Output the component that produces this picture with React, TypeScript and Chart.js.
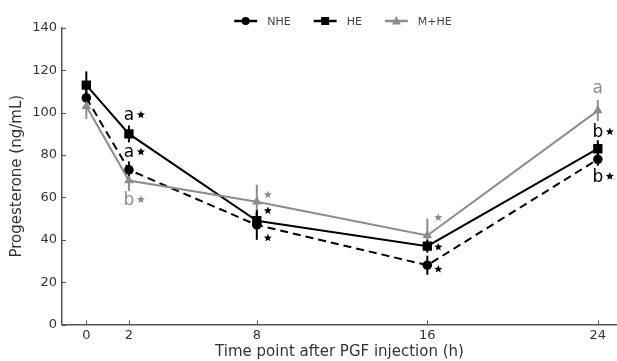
import React, { useEffect, useRef } from "react";
import { Chart, registerables } from "chart.js";
Chart.register(...registerables);

const timePoints = [0, 2, 8, 16, 24];
const nheValues = [107, 73, 47, 28, 78];
const nheErrors = [4, 4, 7, 4.5, 3];
const heValues = [113, 90, 49, 37, 83];
const heErrors = [6.5, 4, 4, 3, 4];
const mheValues = [103, 68, 58, 42, 101];
const mheErrors = [6, 5, 8, 8, 5];
const xTicks = [0, 2, 8, 16, 24];
const yTicks = [0, 20, 40, 60, 80, 100, 120, 140];
const seriesNames = ["NHE", "HE", "M+HE"];

// significance annotations
const annotSeries = [1, 0, 2, 2, 1, 0, 2, 1, 0, 2, 1, 0];
const annotPoint = [1, 1, 1, 2, 2, 2, 3, 3, 3, 4, 4, 4];
const annotLetter = ["a", "a", "b", "", "", "", "", "", "", "a", "b", "b"];
const annotStar = [true, true, true, true, true, true, true, true, true, false, true, true];

// label placement (style)
const annotDy = [-18, -17, 20, -7, -10, 13, -18, 1, 4, -22, -16, 18];

const BLACK = "#000000";
const GRAY = "#8c8c8c";
const FONT = "DejaVu Sans";

function star(ctx: CanvasRenderingContext2D, cx: number, cy: number, r: number) {
  const ri = r * 0.45;
  ctx.beginPath();
  for (let k = 0; k < 10; k++) {
    const rr = k % 2 === 0 ? r : ri;
    const a = -Math.PI / 2 + (k * Math.PI) / 5;
    const x = cx + rr * Math.cos(a);
    const y = cy + rr * Math.sin(a);
    if (k === 0) ctx.moveTo(x, y);
    else ctx.lineTo(x, y);
  }
  ctx.closePath();
  ctx.fill();
}

export default function App() {
  const ref = useRef<HTMLCanvasElement | null>(null);
  useEffect(() => {
    if (!ref.current) return;
    const colors = [BLACK, BLACK, GRAY];
    const errs = [nheErrors, heErrors, mheErrors];
    const vals = [nheValues, heValues, mheValues];
    const styles = ["circle", "rect", "triangle"];

    const overlay = {
      id: "overlay",
      beforeDatasetsDraw(chart: any) {
        const ctx = chart.ctx;
        const xs = chart.scales.x;
        const ys = chart.scales.y;
        ctx.save();
        ctx.lineWidth = 2;
        for (let s = 2; s >= 0; s--) {
          ctx.strokeStyle = colors[s];
          timePoints.forEach((t, i) => {
            const px = xs.getPixelForValue(t);
            ctx.beginPath();
            ctx.moveTo(px, ys.getPixelForValue(vals[s][i] - errs[s][i]));
            ctx.lineTo(px, ys.getPixelForValue(vals[s][i] + errs[s][i]));
            ctx.stroke();
          });
        }
        ctx.restore();
      },
      afterDraw(chart: any) {
        const ctx = chart.ctx;
        const xs = chart.scales.x;
        const ys = chart.scales.y;
        const area = chart.chartArea;
        ctx.save();
        // inward ticks
        ctx.strokeStyle = "#555";
        ctx.lineWidth = 1;
        xTicks.forEach((t) => {
          const px = Math.round(xs.getPixelForValue(t)) + 0.5;
          ctx.beginPath();
          ctx.moveTo(px, area.bottom);
          ctx.lineTo(px, area.bottom - 4);
          ctx.stroke();
        });
        yTicks.forEach((t) => {
          const py = Math.round(ys.getPixelForValue(t)) + 0.5;
          ctx.beginPath();
          ctx.moveTo(area.left, py);
          ctx.lineTo(area.left + 4, py);
          ctx.stroke();
        });
        // annotations
        ctx.textAlign = "center";
        ctx.textBaseline = "middle";
        annotSeries.forEach((s, k) => {
          const i = annotPoint[k];
          const px = xs.getPixelForValue(timePoints[i]);
          const py = ys.getPixelForValue(vals[s][i]) + annotDy[k];
          ctx.fillStyle = colors[s];
          if (annotLetter[k]) {
            ctx.font = `17px "${FONT}"`;
            ctx.fillText(annotLetter[k], px, py);
            if (annotStar[k]) star(ctx, px + 12, py - 1, 4.2);
          } else if (annotStar[k]) {
            star(ctx, px + 11, py, 4.2);
          }
        });
        // legend
        ctx.font = `11px "${FONT}"`;
        const lineLen = 23;
        const gap = 10;
        const itemGap = 23;
        const widths = seriesNames.map((n) => lineLen + gap + ctx.measureText(n).width);
        const total = widths.reduce((a, b) => a + b, 0) + itemGap * (seriesNames.length - 1);
        let lx = 343 - total / 2;
        const ly = 21;
        seriesNames.forEach((n, s) => {
          ctx.strokeStyle = colors[s];
          ctx.fillStyle = colors[s];
          ctx.lineWidth = 2.5;
          ctx.setLineDash([]);
          ctx.beginPath();
          ctx.moveTo(lx, ly);
          ctx.lineTo(lx + lineLen, ly);
          ctx.stroke();
          const cx = lx + lineLen / 2;
          ctx.beginPath();
          if (s === 0) {
            ctx.arc(cx, ly, 4, 0, Math.PI * 2);
          } else if (s === 1) {
            ctx.rect(cx - 4, ly - 4, 8, 8);
          } else {
            ctx.moveTo(cx, ly - 5);
            ctx.lineTo(cx + 4.5, ly + 3.5);
            ctx.lineTo(cx - 4.5, ly + 3.5);
            ctx.closePath();
          }
          ctx.fill();
          ctx.fillStyle = "#444";
          ctx.textAlign = "left";
          ctx.fillText(n, lx + lineLen + gap, ly + 1);
          lx += widths[s] + itemGap;
        });
        ctx.restore();
      },
    };

    const mk = (i: number, dash: number[]) => ({
      label: seriesNames[i],
      data: timePoints.map((t, k) => ({ x: t, y: vals[i][k] })),
      borderColor: colors[i],
      backgroundColor: colors[i],
      borderWidth: 2,
      borderDash: dash,
      pointStyle: styles[i],
      pointRadius: i === 0 ? 4.8 : i === 1 ? 6.6 : 5.5,
      pointBorderWidth: 0,
      tension: 0,
    });

    const chart = new Chart(ref.current, {
      type: "line",
      data: {
        datasets: [mk(2, []), mk(0, [8, 5]), mk(1, [])],
      },
      options: {
        animation: false,
        responsive: false,
        events: [],
        layout: { autoPadding: false, padding: { top: 28, left: 0, right: 0, bottom: 0 } },
        plugins: { legend: { display: false }, tooltip: { enabled: false } },
        scales: {
          x: {
            type: "linear",
            min: -1.14,
            max: 24.9,
            afterBuildTicks: (scale: any) => {
              scale.ticks = xTicks.map((v) => ({ value: v }));
            },
            afterFit: (scale: any) => {
              scale.height = 36.5;
              scale.paddingLeft = 0;
              scale.paddingRight = 0;
            },
            grid: { display: false, drawTicks: false, tickLength: 0 },
            border: { display: true, color: "#555", width: 1.5 },
            ticks: {
              padding: 3,
              color: "#333",
              font: { family: FONT, size: 13 },
              maxRotation: 0,
              autoSkip: false,
            },
            title: {
              display: true,
              text: "Time point after PGF injection (h)",
              color: "#333",
              font: { family: FONT, size: 15 },
              padding: { top: 0, bottom: 0 },
            },
          },
          y: {
            type: "linear",
            min: 0,
            max: 140,
            afterBuildTicks: (scale: any) => {
              scale.ticks = yTicks.map((v) => ({ value: v }));
            },
            afterFit: (scale: any) => {
              scale.width = 62;
              scale.paddingTop = 0;
              scale.paddingBottom = 0;
            },
            grid: { display: false, drawTicks: false, tickLength: 0 },
            border: { display: true, color: "#555", width: 1.5 },
            ticks: {
              padding: 5,
              color: "#333",
              font: { family: FONT, size: 13 },
            },
            title: {
              display: true,
              text: "Progesterone (ng/mL)",
              color: "#333",
              font: { family: FONT, size: 15 },
              padding: { top: 8, bottom: 0 },
            },
          },
        },
      },
      plugins: [overlay],
    });
    return () => chart.destroy();
  }, []);

  return (
    <div style={{ position: "fixed", left: 0, top: 0, width: 617, height: 361, background: "#fff" }}>
      <canvas ref={ref} width={617} height={361} style={{ width: 617, height: 361 }} />
    </div>
  );
}
